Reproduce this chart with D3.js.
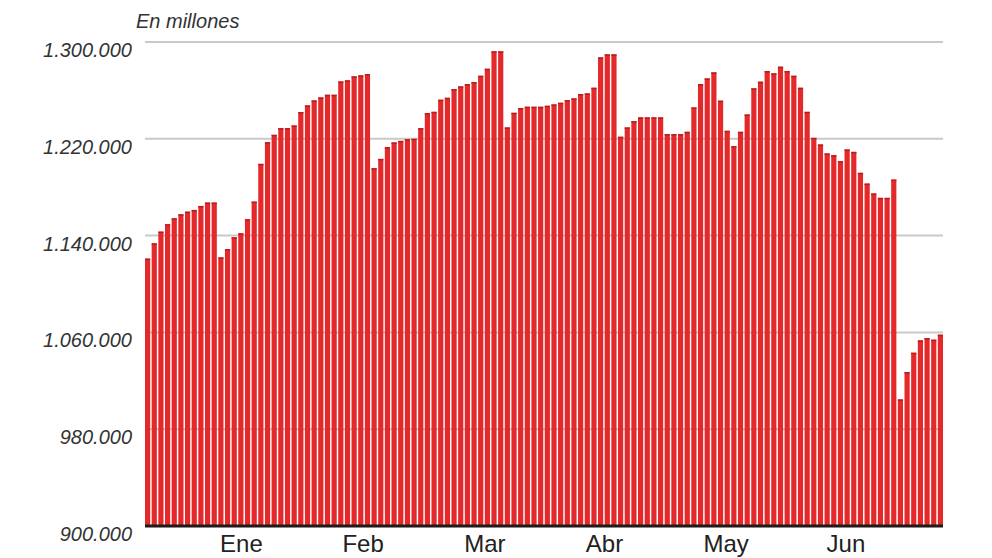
<!DOCTYPE html>
<html>
<head>
<meta charset="utf-8">
<script src="https://cdn.jsdelivr.net/npm/d3@7"></script>
<style>
  body { margin: 0; background: #fff; }
  svg { display: block; font-family: "Liberation Sans", Arial, sans-serif; }
  .ylab { font-style: italic; fill: #333; font-size: 20px; }
  .mlab { fill: #222; font-size: 24px; }
</style>
</head>
<body>
<div id="chart"></div>
<script>
// daily values, in millones
var values = [
  1121000, 1133600, 1143300, 1149400, 1154300, 1157600, 1159800, 1161200, 1164500, 1167300,
  1167300, 1122000, 1128900, 1138600, 1141900, 1153500, 1168100, 1199300, 1217200, 1223300,
  1228800, 1228800, 1231000, 1242100, 1247600, 1251700, 1254200, 1256400, 1256400, 1267400,
  1268300, 1271600, 1272400, 1273500, 1195700, 1203400, 1213100, 1217000, 1218300, 1219700,
  1220000, 1228800, 1241200, 1242300, 1252300, 1253900, 1261100, 1263300, 1265200, 1266900,
  1272100, 1277900, 1292300, 1292300, 1229400, 1241500, 1245400, 1246500, 1246500, 1246500,
  1247300, 1248400, 1249800, 1252000, 1253400, 1257000, 1257500, 1262200, 1287300, 1289800,
  1289800, 1221700, 1229400, 1234600, 1237700, 1237700, 1237700, 1237700, 1223900, 1223900,
  1223900, 1225800, 1245900, 1265200, 1269900, 1274900, 1251500, 1226600, 1213900, 1225800,
  1240100, 1261700, 1267200, 1276000, 1274100, 1279600, 1276000, 1272100, 1262200, 1242300,
  1220800, 1215300, 1207900, 1206500, 1201500, 1211200, 1209200, 1191900, 1183000, 1174800,
  1171200, 1171200, 1186300, 1004600, 1027200, 1043200, 1053400, 1055300, 1054000, 1058100
]
var days = values.map(function(v, i){ return i + 1 })

var yTicks = [900000, 980000, 1060000, 1140000, 1220000, 1300000]
var months = ['Ene', 'Feb', 'Mar', 'Abr', 'May', 'Jun']
// where each month label sits, in bar units from the left edge
var monthAt = [14.5, 32.8, 51.1, 69.1, 87.4, 105.4]
var unitLabel = 'En millones'

var W = 992, H = 558
var mLeft = 145, mRight = 943, mTop = 42, mBottom = 526

var svg = d3.select('#chart').append('svg')
  .attr('width', W).attr('height', H)

var x = d3.scaleBand().domain(days).range([mLeft, mRight]).paddingInner(0.22).paddingOuter(0)
var xi = d3.scaleLinear().domain([0, days.length]).range([mLeft, mRight])
var y = d3.scaleLinear().domain([900000, 1300000]).range([mBottom, mTop])

var fmt = function(v){ return d3.format(',')(v).replace(/,/g, '.') }

// grid lines
svg.append('g').selectAll('line')
  .data(yTicks.filter(function(t){ return t > 900000 }))
  .enter().append('line')
  .attr('x1', mLeft).attr('x2', mRight)
  .attr('y1', function(d){ return y(d) }).attr('y2', function(d){ return y(d) })
  .attr('stroke', '#c9c9c9').attr('stroke-width', 2)

// y labels
svg.append('g').selectAll('text')
  .data(yTicks)
  .enter().append('text')
  .attr('class', 'ylab')
  .attr('x', 132).attr('y', function(d){ return y(d) + 15 })
  .attr('text-anchor', 'end')
  .text(fmt)

svg.append('text')
  .attr('class', 'ylab')
  .attr('x', 136).attr('y', 28)
  .text(unitLabel)

// bars
var bars = svg.append('g')
bars.selectAll('rect.bar')
  .data(values)
  .enter().append('rect')
  .attr('class', 'bar')
  .attr('x', function(d, i){ return x(days[i]) })
  .attr('width', x.bandwidth())
  .attr('y', function(d){ return y(d) })
  .attr('height', function(d){ return mBottom - y(d) })
  .attr('fill', '#e4292b')

// darker cap on each bar
bars.selectAll('rect.cap')
  .data(values)
  .enter().append('rect')
  .attr('class', 'cap')
  .attr('x', function(d, i){ return x(days[i]) })
  .attr('width', x.bandwidth())
  .attr('y', function(d){ return y(d) })
  .attr('height', 1.5)
  .attr('fill', '#b51f22')

// base line
svg.append('line')
  .attr('x1', mLeft).attr('x2', mRight)
  .attr('y1', mBottom).attr('y2', mBottom)
  .attr('stroke', '#1e1a18').attr('stroke-width', 3)

// month labels
svg.append('g').selectAll('text')
  .data(months)
  .enter().append('text')
  .attr('class', 'mlab')
  .attr('x', function(d, i){ return xi(monthAt[i]) })
  .attr('y', 552)
  .attr('text-anchor', 'middle')
  .text(function(d){ return d })
</script>
</body>
</html>
